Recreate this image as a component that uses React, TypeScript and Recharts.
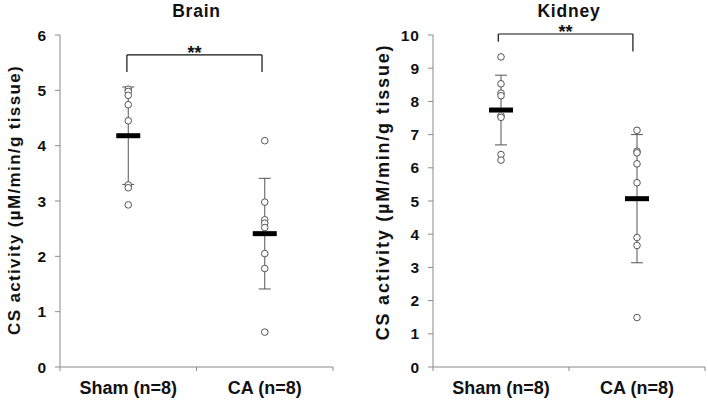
import React from "react";
import {
  ComposedChart,
  Scatter,
  XAxis,
  YAxis,
  ErrorBar,
  ReferenceLine,
} from "recharts";

const groups = ["Sham (n=8)", "CA (n=8)"];

const brainSham = [5.02, 4.98, 4.91, 4.74, 4.45, 3.29, 3.24, 2.93];
const brainCA = [4.09, 2.98, 2.66, 2.6, 2.52, 2.05, 1.78, 0.63];
const brainMean = [4.18, 2.41];
const brainSD = [0.88, 1.0];
const brainTicks = [0, 1, 2, 3, 4, 5, 6];

const kidneySham = [9.34, 8.53, 8.25, 8.17, 7.57, 7.52, 6.4, 6.23];
const kidneyCA = [7.13, 6.5, 6.45, 6.12, 5.55, 3.9, 3.66, 1.49];
const kidneyMean = [7.74, 5.07];
const kidneySD = [1.05, 1.93];
const kidneyTicks = [0, 1, 2, 3, 4, 5, 6, 7, 8, 9, 10];

const FONT = "Arial, 'Liberation Sans', sans-serif";
const AXIS = "#8a8a8a";

const GroupTick = (props: any) => {
  const { x, y, payload } = props;
  const v = payload.value;
  if (Number.isInteger(v)) {
    return <line x1={x} x2={x} y1={y - 4} y2={y} stroke={AXIS} />;
  }
  const label = groups[Math.floor(v)];
  return (
    <text
      x={x}
      y={y + 23}
      textAnchor="middle"
      fontFamily={FONT}
      fontWeight="bold"
      fontSize={18}
      fill="#111"
    >
      {label}
    </text>
  );
};

const MeanBar = (props: any) => {
  const { cx, cy } = props;
  return <rect x={cx - 12} y={cy - 2.5} width={24} height={5} fill="#000" />;
};

const Dot = (props: any) => {
  const { cx, cy } = props;
  return <circle cx={cx} cy={cy} r={3.3} fill="#fff" stroke="#555" strokeWidth={1} />;
};

type PanelProps = {
  left: number;
  title: string;
  sham: number[];
  ca: number[];
  mean: number[];
  sd: number[];
  ticks: number[];
  max: number;
  marginLeft: number;
  marginRight: number;
  labelX: number;
  labelY: number;
  labelSize: number;
  labelSpacing: number;
  bracket: { top: number; leftEnd: number; rightEnd: number; x1: number; x2: number };
};

const Panel = ({
  left,
  title,
  sham,
  ca,
  mean,
  sd,
  ticks,
  max,
  marginLeft,
  marginRight,
  labelX,
  labelY,
  labelSize,
  labelSpacing,
  bracket,
}: PanelProps) => {
  const points = [
    ...sham.map((v) => ({ x: 0.5, y: v })),
    ...ca.map((v) => ({ x: 1.5, y: v })),
  ];
  const means = mean.map((m, i) => ({ x: i + 0.5, y: m, sd: sd[i] }));
  const W = 354;
  const plotCenter = marginLeft + 40 + (W - marginLeft - 40 - marginRight) / 2;
  return (
    <div style={{ position: "absolute", left, top: 0, width: W, height: 400 }}>
      <div
        style={{
          position: "absolute",
          left: plotCenter - 60,
          width: 120,
          top: 1,
          textAlign: "center",
          fontFamily: FONT,
          fontWeight: "bold",
          fontSize: 17.5,
          letterSpacing: 0.8,
          color: "#111",
        }}
      >
        {title}
      </div>
      <ComposedChart
        width={W}
        height={400}
        margin={{ top: 35, right: marginRight, bottom: 3, left: marginLeft }}
      >
        <XAxis
          type="number"
          dataKey="x"
          domain={[0, 2]}
          ticks={[0, 0.5, 1, 1.5, 2]}
          interval={0}
          stroke={AXIS}
          tickLine={false}
          tickSize={4}
          tickMargin={0}
          height={30}
          tick={<GroupTick />}
        />
        <YAxis
          type="number"
          dataKey="y"
          domain={[0, max]}
          ticks={ticks}
          interval={0}
          width={40}
          stroke={AXIS}
          tickSize={5}
          tickMargin={8}
          tick={{
            fill: "#111",
            fontFamily: FONT,
            fontWeight: "bold",
            fontSize: 15.5,
            letterSpacing: 1,
          }}
          label={{
            content: () => (
              <text
                x={labelX}
                y={labelY}
                transform={`rotate(-90 ${labelX} ${labelY})`}
                textAnchor="middle"
                dominantBaseline="central"
                fontFamily={FONT}
                fontWeight="bold"
                fontSize={labelSize}
                letterSpacing={labelSpacing}
                fill="#111"
              >
                CS activity (µM/min/g tissue)
              </text>
            ),
          }}
        />
        <ReferenceLine
          ifOverflow="visible"
          stroke="#111"
          strokeWidth={1.2}
          segment={[
            { x: bracket.x1, y: bracket.top },
            { x: bracket.x2, y: bracket.top },
          ]}
          label={{
            value: "**",
            position: "top",
            fontFamily: FONT,
            fontWeight: "bold",
            fontSize: 18,
            fill: "#111",
            offset: -4,
          }}
        />
        <ReferenceLine
          ifOverflow="visible"
          stroke="#111"
          strokeWidth={1.2}
          segment={[
            { x: bracket.x1, y: bracket.top },
            { x: bracket.x1, y: bracket.leftEnd },
          ]}
        />
        <ReferenceLine
          ifOverflow="visible"
          stroke="#111"
          strokeWidth={1.2}
          segment={[
            { x: bracket.x2, y: bracket.top },
            { x: bracket.x2, y: bracket.rightEnd },
          ]}
        />
        <Scatter data={means} shape={<MeanBar />} isAnimationActive={false}>
          <ErrorBar dataKey="sd" direction="y" width={6} stroke="#555" strokeWidth={1} />
        </Scatter>
        <Scatter data={points} shape={<Dot />} isAnimationActive={false} />
      </ComposedChart>
    </div>
  );
};

export default function App() {
  return (
    <div
      style={{
        position: "absolute",
        left: 0,
        top: 0,
        width: 708,
        height: 400,
        background: "#fff",
        overflow: "hidden",
      }}
    >
      <Panel
        left={0}
        title="Brain"
        sham={brainSham}
        ca={brainCA}
        mean={brainMean}
        sd={brainSD}
        ticks={brainTicks}
        max={6}
        marginLeft={20}
        marginRight={21}
        labelX={14}
        labelY={200}
        labelSize={17}
        labelSpacing={1.35}
        bracket={{ top: 5.64, leftEnd: 5.33, rightEnd: 5.33, x1: 0.49, x2: 1.48 }}
      />
      <Panel
        left={354}
        title="Kidney"
        sham={kidneySham}
        ca={kidneyCA}
        mean={kidneyMean}
        sd={kidneySD}
        ticks={kidneyTicks}
        max={10}
        marginLeft={39}
        marginRight={3}
        labelX={29}
        labelY={192}
        labelSize={18}
        labelSpacing={1.8}
        bracket={{ top: 10.03, leftEnd: 9.8, rightEnd: 9.5, x1: 0.48, x2: 1.47 }}
      />
    </div>
  );
}
